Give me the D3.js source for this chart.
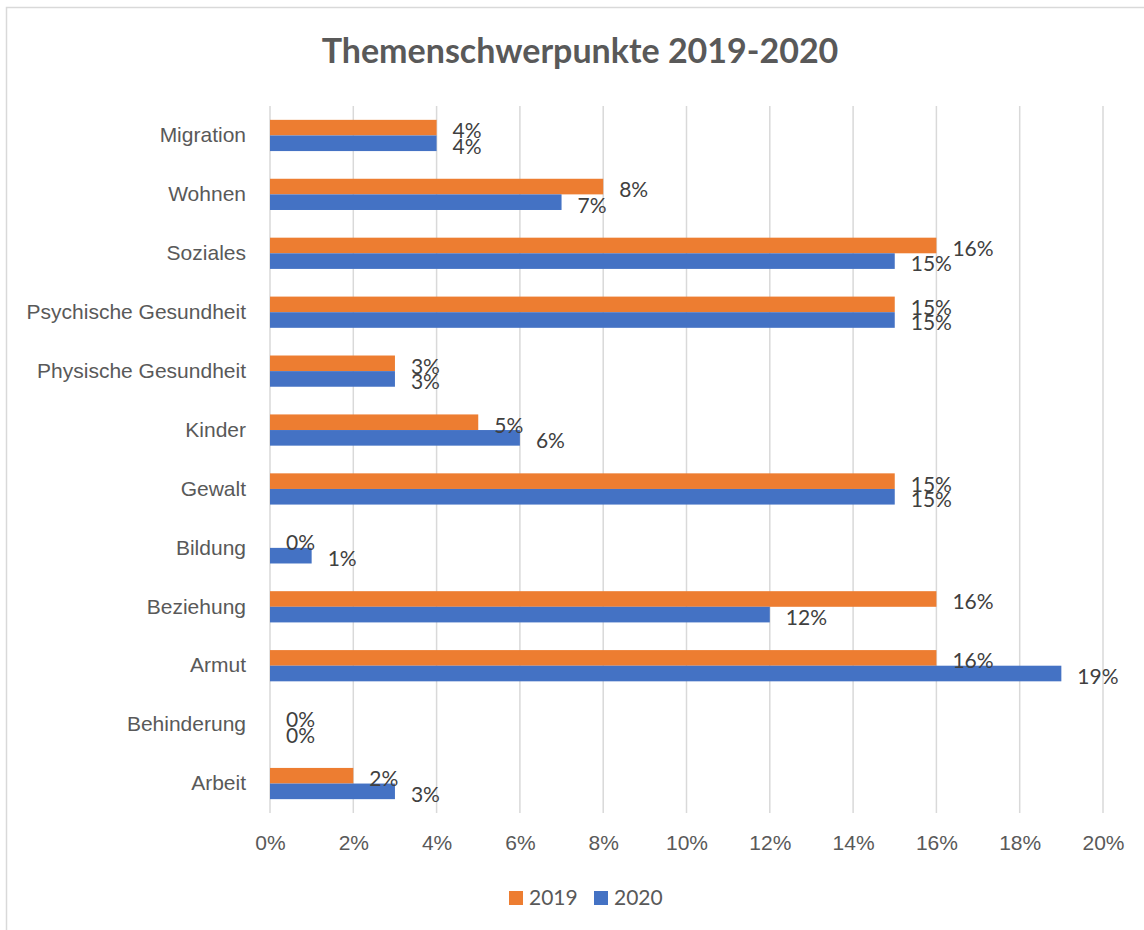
<!DOCTYPE html>
<html>
<head>
<meta charset="utf-8">
<script src="https://cdn.jsdelivr.net/npm/d3@7"></script>
<style>
  body { margin: 0; background: #fff; }
  svg { display: block; font-family: Lato, "Open Sans", sans-serif; }
</style>
</head>
<body>
<svg id="chart" width="1144" height="930"></svg>
<script>
// data
var categories = ["Migration", "Wohnen", "Soziales", "Psychische Gesundheit", "Physische Gesundheit",
  "Kinder", "Gewalt", "Bildung", "Beziehung", "Armut", "Behinderung", "Arbeit"];
var seriesNames = ["2019", "2020"];
var values2019 = [4, 8, 16, 15, 3, 5, 15, 0, 16, 16, 0, 2];
var values2020 = [4, 7, 15, 15, 3, 6, 15, 1, 12, 19, 0, 3];
var xTicks = [0, 2, 4, 6, 8, 10, 12, 14, 16, 18, 20];
var colors = ["#ED7D31", "#4472C4"];

var svg = d3.select("#chart");
var margin = {top: 106, left: 270, right: 41, bottom: 117};
var width = 1144 - margin.left - margin.right,
    height = 930 - margin.top - margin.bottom;

// outer frame (right and bottom edges fall off the picture)
svg.append("rect")
  .attr("x", 6.5).attr("y", 7.5)
  .attr("width", 1160).attr("height", 950)
  .attr("fill", "none").attr("stroke", "#D9D9D9").attr("stroke-width", 1.5);

svg.append("text")
  .attr("x", 580).attr("y", 63)
  .attr("text-anchor", "middle")
  .attr("fill", "#595959")
  .style("font-size", "34px").style("font-weight", "bold")
  .text("Themenschwerpunkte 2019-2020");

var g = svg.append("g")
  .attr("transform", "translate(" + margin.left + "," + margin.top + ")");

var x = d3.scaleLinear().domain([0, 20]).range([0, width]);
var y = d3.scaleBand().domain(categories).range([0, height]).paddingInner(0.47).paddingOuter(0.235);
var ySub = d3.scaleBand().domain(seriesNames).range([0, y.bandwidth()]);

// grid
g.selectAll(".grid").data(xTicks).enter().append("line")
  .attr("class", "grid")
  .attr("x1", function(d) { return x(d); })
  .attr("x2", function(d) { return x(d); })
  .attr("y1", 0).attr("y2", height)
  .attr("stroke", "#D9D9D9").attr("stroke-width", 1.5);

var xAxis = g.append("g")
  .attr("transform", "translate(0," + height + ")")
  .call(d3.axisBottom(x).tickValues(xTicks).tickSize(0).tickPadding(22)
    .tickFormat(function(d) { return d + "%"; }));
xAxis.select(".domain").remove();
xAxis.selectAll("text").attr("fill", "#595959").style("font-size", "21px");

var yAxis = g.append("g")
  .call(d3.axisLeft(y).tickSize(0).tickPadding(24));
yAxis.select(".domain").remove();
yAxis.selectAll("text").attr("fill", "#595959").style("font-size", "21px");

var rows = categories.map(function(c, i) {
  return {cat: c, vals: [values2019[i], values2020[i]]};
});

var grp = g.selectAll(".cat").data(rows).enter().append("g")
  .attr("class", "cat")
  .attr("transform", function(d) { return "translate(0," + y(d.cat) + ")"; });

grp.selectAll("rect").data(function(d) {
    return d.vals.map(function(v, i) { return {s: seriesNames[i], v: v, i: i}; });
  }).enter().append("rect")
  .attr("x", 0)
  .attr("y", function(d) { return ySub(d.s); })
  .attr("width", function(d) { return x(d.v); })
  .attr("height", ySub.bandwidth())
  .attr("fill", function(d) { return colors[d.i]; });

grp.selectAll("text.lbl").data(function(d) {
    return d.vals.map(function(v, i) { return {s: seriesNames[i], v: v, i: i}; });
  }).enter().append("text")
  .attr("class", "lbl")
  .attr("x", function(d) { return x(d.v) + 16; })
  .attr("y", function(d) { return ySub(d.s) + ySub.bandwidth() / 2 + 3; })
  .attr("dy", "0.35em")
  .attr("fill", "#404040")
  .style("font-size", "21px")
  .text(function(d) { return d.v + "%"; });

// legend
var legend = svg.append("g").attr("transform", "translate(509,891)");
var li = legend.selectAll("g").data(seriesNames).enter().append("g")
  .attr("transform", function(d, i) { return "translate(" + (i * 85) + ",0)"; });
li.append("rect").attr("width", 14).attr("height", 14)
  .attr("fill", function(d, i) { return colors[i]; });
li.append("text").attr("x", 20).attr("y", 7).attr("dy", "0.35em")
  .attr("fill", "#595959").style("font-size", "21px")
  .text(function(d) { return d; });
</script>
</body>
</html>
